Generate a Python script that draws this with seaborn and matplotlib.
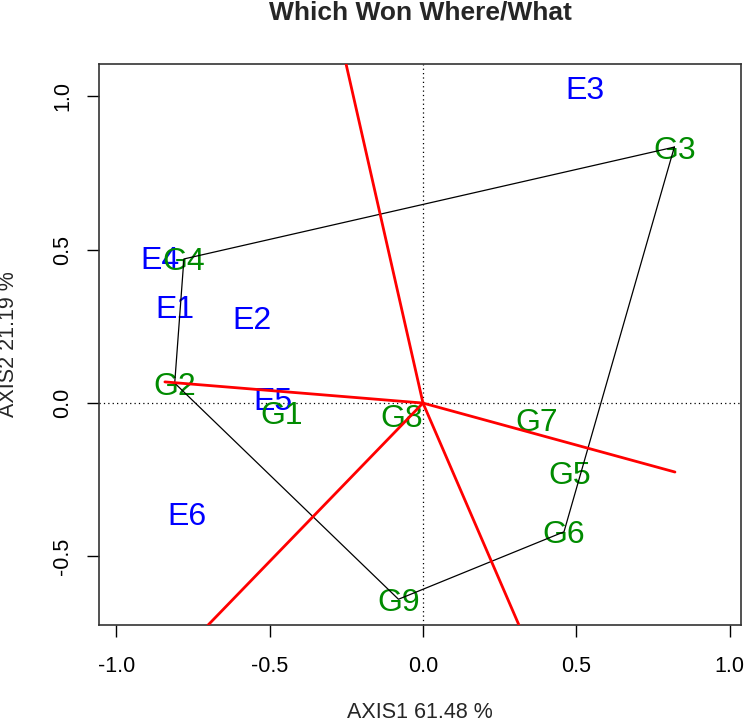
import numpy as np
import pandas as pd
import matplotlib
matplotlib.use('Agg')
import matplotlib.pyplot as plt
import seaborn as sns

# genotype scores (polygon vertices / labels)
gen_names = ['G1', 'G2', 'G3', 'G4', 'G5', 'G6', 'G7', 'G8', 'G9']
gen_x = [-0.46, -0.81, 0.82, -0.78, 0.48, 0.46, 0.37, -0.07, -0.08]
gen_y = [-0.03, 0.065, 0.835, 0.47, -0.225, -0.42, -0.055, -0.04, -0.64]

# environment scores
env_names = ['E1', 'E2', 'E3', 'E4', 'E5', 'E6']
env_x = [-0.81, -0.557, 0.528, -0.857, -0.49, -0.769]
env_y = [0.31, 0.276, 1.026, 0.47, 0.01, -0.364]

# convex hull order
hull = ['G3', 'G4', 'G2', 'G9', 'G6', 'G3']

# rays from origin, perpendicular to hull sides
ray_x = [-0.251, -0.842, -0.701, 0.313, 0.822]
ray_y = [1.106, 0.069, -0.724, -0.724, -0.225]

xlim = (-1.057, 1.0375)
ylim = (-0.724, 1.106)

sns.set_style('white')
plt.rcParams['font.family'] = ['Liberation Sans', 'DejaVu Sans']

gen = pd.DataFrame({'name': gen_names, 'x': gen_x, 'y': gen_y}).set_index('name')
env = pd.DataFrame({'name': env_names, 'x': env_x, 'y': env_y})

fig = plt.figure(figsize=(7.45, 7.27), dpi=100)
ax = fig.add_axes([99 / 745, 1 - 625 / 727, 642 / 745, 561 / 727])

ax.axhline(0, color='black', ls=(0, (1, 2.5)), lw=0.9, zorder=1)
ax.axvline(0, color='black', ls=(0, (1, 2.5)), lw=0.9, zorder=1)

# labels sit a touch below the point, as in R's text()
for _, r in env.iterrows():
    ax.annotate(r['name'], (r['x'], r['y']), xytext=(0, -1.5), textcoords='offset points',
                color='#0000ff', fontsize=23, ha='center', va='center', zorder=2)
for name, r in gen.iterrows():
    ax.annotate(name, (r['x'], r['y']), xytext=(0, -2.5), textcoords='offset points',
                color='#008b00', fontsize=23, ha='center', va='center', zorder=3)

poly = gen.loc[hull].reset_index()
sns.lineplot(data=poly, x='x', y='y', sort=False, color='black', lw=0.9,
             estimator=None, ax=ax, zorder=4)

rays = pd.DataFrame({
    'x': np.ravel(np.column_stack([np.zeros(len(ray_x)), ray_x])),
    'y': np.ravel(np.column_stack([np.zeros(len(ray_y)), ray_y])),
    'ray': np.repeat(np.arange(len(ray_x)), 2),
})
sns.lineplot(data=rays, x='x', y='y', units='ray', estimator=None, sort=False,
             color='red', lw=2.0, ax=ax, zorder=5)

ax.set_xlim(*xlim)
ax.set_ylim(*ylim)
ax.set_xticks([-1.0, -0.5, 0.0, 0.5, 1.0])
ax.set_yticks([-0.5, 0.0, 0.5, 1.0])
ax.set_xticklabels(['-1.0', '-0.5', '0.0', '0.5', '1.0'])
ax.set_yticklabels(['-0.5', '0.0', '0.5', '1.0'], rotation=90, va='center')
ax.tick_params(axis='both', direction='out', length=8.5, width=1.0,
               labelsize=15.5, colors='black', bottom=True, left=True)
ax.tick_params(axis='x', pad=14)
ax.tick_params(axis='y', pad=10)
for s in ax.spines.values():
    s.set_color('#333333')
    s.set_linewidth(1.2)

ax.set_xlabel('AXIS1 61.48 %', fontsize=15.5)
ax.set_ylabel('AXIS2 21.19 %', fontsize=15.5)
ax.xaxis.set_label_coords(0.5, -(713 - 625) / 561)
ax.xaxis.label.set_va('center')
ax.yaxis.set_label_coords(-(99 - 9) / 642, 0.5)
ax.yaxis.label.set_va('center')

ax.set_title('Which Won Where/What', fontsize=19, fontweight='bold',
             y=1 + (64 - 13) / 561, va='center', pad=0)

fig.savefig('out.png', dpi=100)
